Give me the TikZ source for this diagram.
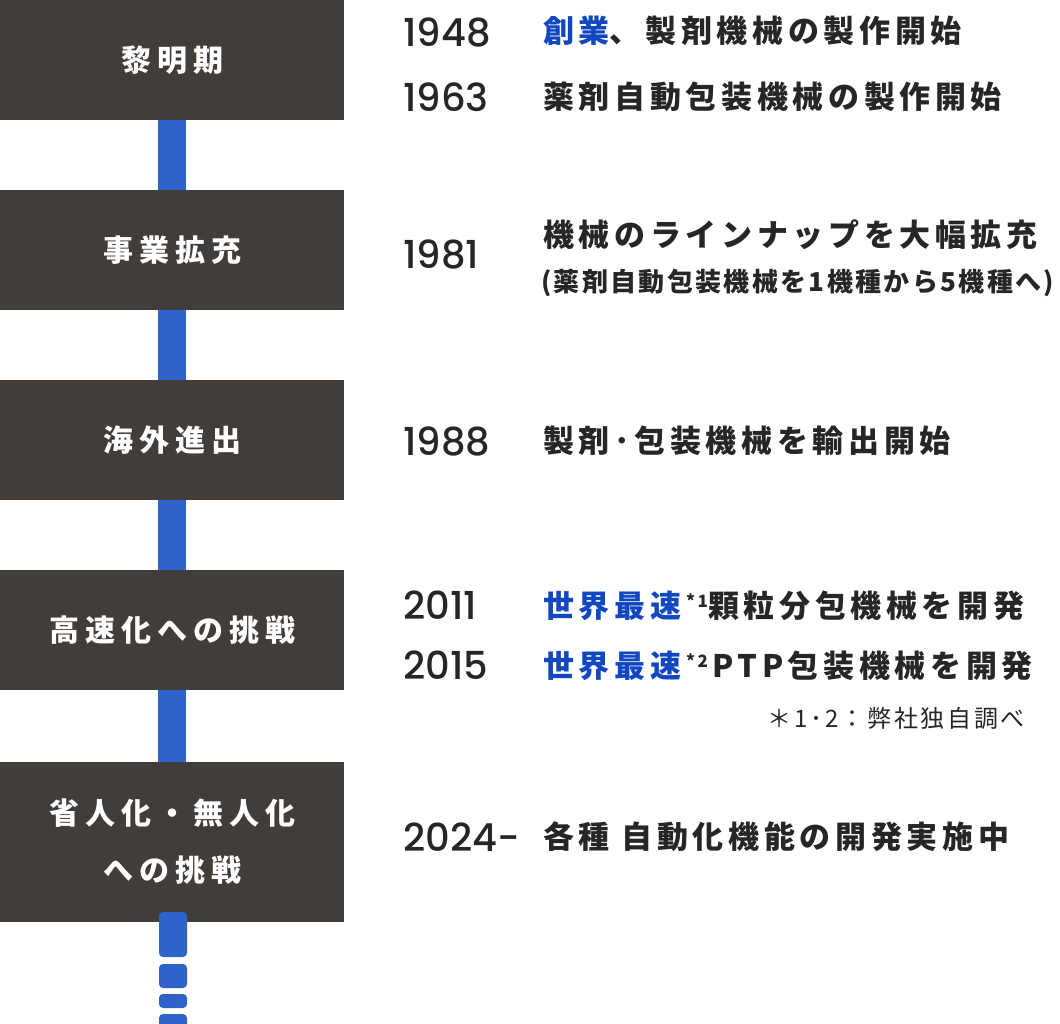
\documentclass[tikz,border=0pt]{standalone}
\usepackage{fontspec}
\newfontfamily\jp[LetterSpace=15]{Noto Sans CJK JP}
\newfontfamily\jpl[LetterSpace=20]{Noto Sans CJK JP}
\newfontfamily\jpn[LetterSpace=9]{Noto Sans CJK JP}
\newfontfamily\jpf[LetterSpace=11]{Noto Sans CJK JP}
\newfontfamily\yrf[UprightFont=* Medium]{Poppins}
\definecolor{boxc}{HTML}{433D39}
\definecolor{linec}{HTML}{3063C9}
\definecolor{hl}{HTML}{1147C0}
\definecolor{txt}{HTML}{262626}
\begin{document}
\begin{tikzpicture}[x=1pt,y=-1pt,
  phase/.style={fill=boxc,text=white,minimum width=344pt,minimum height=120pt,inner sep=0pt,font=\jpl\bfseries\fontsize{30}{57}\selectfont,align=center},
  conn/.style={draw=linec,line width=28pt},
  yr/.style={anchor=west,inner sep=0pt,text=txt,font=\yrf\fontsize{38.5}{40}\selectfont},
  ev/.style={anchor=west,inner sep=0pt,text=txt,font=\jp\bfseries\fontsize{31}{36}\selectfont},
  dotseg/.style={fill=linec,rounded corners=4pt}]
\useasboundingbox (0,0) rectangle (1060,1024);
\node[phase] (p1) at (172,60) {黎明期};
\node[phase] (p2) at (172,250) {事業拡充};
\node[phase] (p3) at (172,440) {海外進出};
\node[phase] (p4) at (172,630) {高速化への挑戦};
\node[phase,minimum height=160pt] (p5) at (172,842) {省人化・無人化\\への挑戦};
\draw[conn] (p1.south) -- (p2.north);
\draw[conn] (p2.south) -- (p3.north);
\draw[conn] (p3.south) -- (p4.north);
\draw[conn] (p4.south) -- (p5.north);
\fill[dotseg] (159,912) rectangle (187,957);
\fill[dotseg] (159,964) rectangle (187,988);
\fill[dotseg] (159,994) rectangle (187,1008);
\fill[dotseg] (159,1014) rectangle (187,1034);
\node[yr] (y1) at (403,32) {1948};
\node[ev] (e1) at (543,31) {\textcolor{hl}{創業}、製剤機械の製作開始};
\node[yr] (y2) at (403,97) {1963};
\node[ev] (e2) at (543,97) {薬剤自動包装機械の製作開始};
\node[yr] (y3) at (403,254) {1981};
\node[ev] (e3) at (543,235) {機械のラインナップを大幅拡充};
\node[ev,font=\jpn\bfseries\fontsize{26}{30}\selectfont] (e3b) at (541,283) {(薬剤自動包装機械を1機種から5機種へ)};
\node[yr] (y4) at (403,441) {1988};
\node[ev] (e4) at (543,441) {製剤･包装機械を輸出開始};
\node[yr] (y5) at (403,605) {2011};
\node[ev] (e5) at (543,606) {\textcolor{hl}{世界最速}\hspace{5pt}\raisebox{10pt}{\fontsize{17}{17}\selectfont *1}顆粒分包機械を開発};
\node[yr] (y6) at (403,665) {2015};
\node[ev] (e6) at (543,666) {\textcolor{hl}{世界最速}\hspace{5pt}\raisebox{10pt}{\fontsize{17}{17}\selectfont *2}\hspace{4pt}PTP包装機械を開発};
\node[anchor=east,inner sep=0pt,text=txt,font=\jpf\fontsize{24}{28}\selectfont] (fn) at (1025,718) {＊1･2：弊社独自調べ};
\node[yr] (y7) at (403,837) {2024-};
\node[ev] (e7) at (543,837) {各種 自動化機能の開発実施中};
\end{tikzpicture}
\end{document}
